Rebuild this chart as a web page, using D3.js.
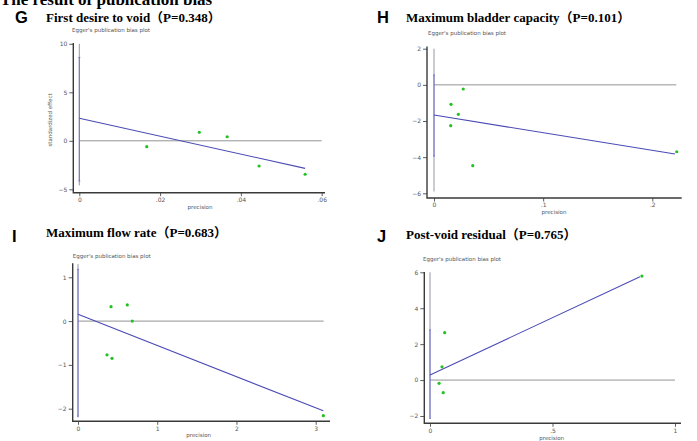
<!DOCTYPE html>
<meta charset="utf-8">
<style>
body { margin: 0; background: #fff; }
svg { display: block; }
.tick text { font-family: "DejaVu Sans", sans-serif; font-size: 6px; fill: #555; }
.tick line { stroke: #333; stroke-width: 0.8; }
.title { font-family: "Liberation Serif", "Times New Roman", "Noto Sans CJK SC", serif; font-weight: bold; }
.letter { font-family: "Liberation Sans", Arial, sans-serif; font-weight: bold; font-size: 16.5px; }
.small { font-family: "DejaVu Sans", sans-serif; font-size: 5.5px; fill: #555; }
</style>
<body>
<script src="https://cdn.jsdelivr.net/npm/d3@7"></script>
<script>

// ---- data ----
var panelKeys = ["G", "H", "I", "J"];
var panelTitles = ["First desire to void（P=0.348）", "Maximum bladder capacity（P=0.101）",
                   "Maximum flow rate（P=0.683）", "Post-void residual（P=0.765）"];

// precision / standardized effect of each study
var precG = [0.0167, 0.0297, 0.0366, 0.0445, 0.0559];
var effG  = [-0.61, 0.88, 0.42, -2.6, -3.45];
var precH = [0.0156, 0.0268, 0.0223, 0.0153, 0.0355, 0.2224];
var effH  = [-1.08, -0.23, -1.63, -2.26, -4.47, -3.70];
var precI = [0.417, 0.622, 0.685, 0.366, 0.429, 3.096];
var effI  = [0.33, 0.37, 0.0, -0.77, -0.85, -2.16];
var precJ = [0.865, 0.060, 0.049, 0.037, 0.054];
var effJ  = [5.79, 2.64, 0.74, -0.18, -0.70];

// Egger regression line: intercept, slope, and end of the line (max precision)
var eggerIntercept = [2.32, -1.67, 0.155, 0.28];
var eggerSlope     = [-92.3, -9.78, -0.712, 6.39];
var eggerEnd       = [0.0559, 0.2208, 3.096, 0.857];
// vertical segment at precision 0 (CI of intercept), and the grey base line
var ciLow  = [-4.14, -3.94, -2.17, -2.13];
var ciHigh = [8.59, 0.545, 1.18, 2.79];
var baseLow  = [-4.6, -5.9, -2.2, -2.1];
var baseHigh = [10, 2, 1.3, 6];
// end of the horizontal line at 0
var zeroEnd = [0.06, 0.222, 3.10, 1.0];

// tick values and labels
var xTicks = [[0, 0.02, 0.04, 0.06], [0, 0.1, 0.2], [0, 1, 2, 3], [0, 0.5, 1]];
var xTickLabels = [["0", ".02", ".04", ".06"], ["0", ".1", ".2"], ["0", "1", "2", "3"], ["0", ".5", "1"]];
var yTicks = [[-5, 0, 5, 10], [-6, -4, -2, 0, 2], [-2, -1, 0, 1], [-2, 0, 2, 4, 6]];

var precs = [precG, precH, precI, precJ];
var effs = [effG, effH, effI, effJ];

// ---- layout of each panel (pixels) ----
var layout = [
  {xd: [0, 0.06], xr: [79.3, 321.7], yd: [-5, 10], yr: [189.3, 43.8], ax: 73.3, top: 43, bot: 192.7, right: 325,
   lx: 15, ly: 22.5, tx: 46, ty: 21.5, ex: 72, ey: 32, px: 200, py: 209},
  {xd: [0, 0.2], xr: [434, 652.3], yd: [-6, 2], yr: [193.3, 48.7], ax: 427, top: 46.5, bot: 198, right: 681.7,
   lx: 377, ly: 23, tx: 406, ty: 21.5, ex: 428, ey: 35, px: 554, py: 213.5},
  {xd: [0, 3], xr: [78, 315.7], yd: [-2, 1], yr: [408.7, 277.3], ax: 72.7, top: 263.3, bot: 421.3, right: 330,
   lx: 12, ly: 242, tx: 46, ty: 237, ex: 72.7, ey: 258, px: 198.7, py: 437},
  {xd: [0, 1], xr: [430, 675], yd: [-2, 6], yr: [416, 272.3], ax: 424.3, top: 272, bot: 423.3, right: 681,
   lx: 377, ly: 242, tx: 406, ty: 238.5, ex: 423, ey: 260.5, px: 551.7, py: 440}
];

var svg = d3.select("body").append("svg")
    .attr("width", 697)
    .attr("height", 441);

// page heading, cropped at the top edge as in the source figure
svg.append("text")
    .attr("class", "title")
    .attr("x", 0)
    .attr("y", 5)
    .style("font-size", "17px")
    .text("The result of publication bias");

panelKeys.forEach(function(key, i) {
  var L = layout[i];
  var x = d3.scaleLinear().domain(L.xd).range(L.xr);
  var y = d3.scaleLinear().domain(L.yd).range(L.yr);
  var g = svg.append("g");

  g.append("text").attr("class", "letter")
      .attr("x", L.lx).attr("y", L.ly)
      .text(key);

  g.append("text").attr("class", "title")
      .attr("x", L.tx).attr("y", L.ty)
      .style("font-size", "13px")
      .text(panelTitles[i]);

  g.append("text").attr("class", "small")
      .attr("x", L.ex).attr("y", L.ey)
      .text("Egger's publication bias plot");

  // axes
  var yAxis = d3.axisLeft(y).tickValues(yTicks[i]).tickSize(4).tickPadding(2).tickFormat(d3.format("d"));
  var xAxis = d3.axisBottom(x).tickValues(xTicks[i]).tickSize(3.5).tickPadding(1.5)
      .tickFormat(function(d, j) { return xTickLabels[i][j]; });

  var ya = g.append("g").attr("transform", "translate(" + L.ax + ",0)").call(yAxis);
  ya.select(".domain").remove();
  ya.selectAll("text").text(function(d) { return d < 0 ? "\u2212" + Math.abs(d) : d; });
  var xa = g.append("g").attr("transform", "translate(0," + L.bot + ")").call(xAxis);
  xa.select(".domain").remove();

  g.append("path")
      .attr("d", "M" + L.ax + "," + L.top + "V" + L.bot + "H" + L.right)
      .attr("fill", "none")
      .attr("stroke", "#3a3a3a")
      .attr("stroke-width", 1.4);

  g.append("text").attr("class", "small")
      .attr("x", L.px).attr("y", L.py)
      .attr("text-anchor", "middle")
      .text("precision");

  if (i === 0) {
    g.append("text").attr("class", "small")
        .attr("transform", "translate(52,120) rotate(-90)")
        .attr("text-anchor", "middle")
        .text("standardized effect");
  }

  // horizontal reference at 0
  g.append("line")
      .attr("x1", x(0)).attr("x2", x(zeroEnd[i]))
      .attr("y1", y(0)).attr("y2", y(0))
      .attr("stroke", "#888").attr("stroke-width", 0.9);

  // grey base line at precision 0
  g.append("line")
      .attr("x1", x(0)).attr("x2", x(0))
      .attr("y1", y(baseHigh[i])).attr("y2", y(baseLow[i]))
      .attr("stroke", "#8a8aa0").attr("stroke-width", 0.9);

  // CI of intercept
  g.append("line")
      .attr("x1", x(0)).attr("x2", x(0))
      .attr("y1", y(ciHigh[i])).attr("y2", y(ciLow[i]))
      .attr("stroke", "#6a6ad0").attr("stroke-width", 0.9);
  [ciLow[i], ciHigh[i]].forEach(function(v) {
    g.append("line")
        .attr("x1", x(0) - 1).attr("x2", x(0) + 1)
        .attr("y1", y(v)).attr("y2", y(v))
        .attr("stroke", "#6a6ad0").attr("stroke-width", 0.8);
  });

  // Egger regression line
  g.append("line")
      .attr("x1", x(0)).attr("y1", y(eggerIntercept[i]))
      .attr("x2", x(eggerEnd[i])).attr("y2", y(eggerIntercept[i] + eggerSlope[i] * eggerEnd[i]))
      .attr("stroke", "#4b4bb5").attr("stroke-width", 1.1);

  // study points
  g.selectAll("circle")
      .data(precs[i].map(function(p, j) { return [p, effs[i][j]]; }))
    .enter().append("circle")
      .attr("cx", function(d) { return x(d[0]); })
      .attr("cy", function(d) { return y(d[1]); })
      .attr("r", 1.6)
      .attr("fill", "#22c022");
});

</script>
</body>
</html>
